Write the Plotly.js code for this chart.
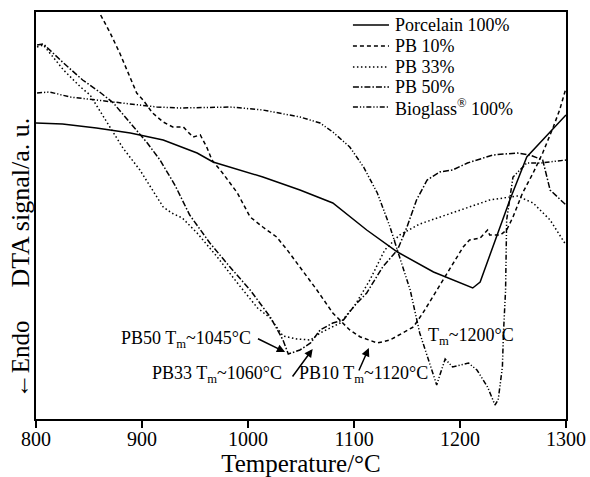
<!DOCTYPE html>
<html>
<head>
<meta charset="utf-8">
<script src="https://cdn.plot.ly/plotly-3.0.1.min.js"></script>
<style>html,body{margin:0;padding:0;background:#fff;}#chart{width:590px;height:477px;}</style>
</head>
<body>
<div id="chart"></div>
<script>
// Series names
const seriesNames = ['Porcelain 100%', 'PB 10%', 'PB 33%', 'PB 50%', 'Bioglass<sup>®</sup> 100%'];

// Porcelain 100%
const porcelainT = [800, 825, 857, 889, 920, 952, 967, 1014, 1049, 1080, 1112, 1141, 1175, 1212, 1219, 1231, 1247, 1263, 1285, 1300];
const porcelainY = [296, 295, 291, 286, 279, 266, 257, 242, 229, 216, 189, 167, 147, 131, 137, 172, 219, 262, 287, 304];

// PB 10%
const pb10T = [861, 870, 879, 889, 895, 901, 910, 920, 929, 939, 948, 955, 961, 966, 976, 990, 1002, 1014, 1027, 1037, 1049, 1065, 1080, 1096, 1106, 1122, 1134, 1146, 1156, 1165, 1178, 1191, 1203, 1209, 1219, 1226, 1228, 1238, 1244, 1250, 1259, 1269, 1278, 1288, 1294, 1300];
const pb10Y = [404, 386, 366, 342, 326, 319, 306, 297, 292, 292, 282, 284, 272, 259, 246, 226, 202, 192, 182, 169, 152, 129, 106, 89, 82, 76, 79, 86, 92, 106, 129, 152, 172, 179, 181, 189, 184, 184, 189, 202, 226, 246, 266, 292, 309, 331];

// PB 33%
const pb33T = [801, 807, 813, 826, 842, 851, 858, 870, 882, 898, 912, 920, 928, 938, 952, 971, 990, 1009, 1021, 1033, 1046, 1059, 1068, 1087, 1101, 1115, 1129, 1143, 1162, 1184, 1207, 1228, 1254, 1269, 1285, 1300];
const pb33Y = [372, 374, 366, 349, 332, 324, 312, 292, 271, 249, 226, 212, 206, 201, 186, 162, 136, 111, 101, 83, 80, 79, 86, 96, 114, 139, 169, 184, 195, 203, 212, 219, 223, 216, 199, 174];

// PB 50%
const pb50T = [801, 807, 826, 844, 860, 873, 889, 905, 917, 931, 945, 964, 983, 1002, 1021, 1033, 1038, 1049, 1059, 1068, 1080, 1090, 1101, 1112, 1127, 1141, 1150, 1159, 1169, 1181, 1193, 1207, 1231, 1254, 1266, 1278, 1282, 1285, 1292, 1300];
const pb50Y = [374, 375, 356, 339, 327, 316, 296, 276, 259, 234, 204, 176, 152, 129, 102, 79, 65, 69, 76, 89, 96, 99, 114, 126, 152, 169, 192, 219, 239, 247, 249, 256, 264, 266, 264, 259, 242, 229, 222, 214];

// Bioglass 100%
const bioT = [801, 813, 832, 858, 882, 914, 936, 983, 1014, 1049, 1068, 1080, 1096, 1109, 1122, 1134, 1143, 1153, 1162, 1172, 1178, 1181, 1186, 1193, 1200, 1208, 1216, 1226, 1233, 1236, 1240, 1241, 1243, 1244, 1250, 1263, 1276, 1300];
const bioY = [326, 327, 322, 319, 316, 312, 311, 312, 309, 302, 296, 287, 272, 252, 226, 192, 162, 129, 86, 52, 34, 44, 60, 52, 54, 56, 49, 32, 14, 19, 52, 86, 129, 199, 242, 256, 256, 259];

// Axis ticks
const xTicks = [800, 900, 1000, 1100, 1200, 1300];

// Annotation labels
const tmLabels = ['PB50 T<sub>m</sub>~1045°C', 'PB33 T<sub>m</sub>~1060°C', 'PB10 T<sub>m</sub>~1120°C', 'T<sub>m</sub>~1200°C'];

const dashes = ['solid', '4px,3px', '1.5px,2.5px', '6px,2px,1.5px,2px', '5px,2px,1.2px,2px,1.2px,2px'];
const xs = [porcelainT, pb10T, pb33T, pb50T, bioT];
const ys = [porcelainY, pb10Y, pb33Y, pb50Y, bioY];

const FONT = 'Liberation Serif, Times New Roman, serif';

const traces = xs.map((x, i) => ({
  x: x, y: ys[i], type: 'scatter', mode: 'lines', name: seriesNames[i],
  line: {color: '#000', width: 1.5, dash: dashes[i]},
  showlegend: false, hoverinfo: 'skip'
}));

// Manual legend (line samples + labels), placed in data space of the top-right corner
const legendRowsY = [394, 373, 352, 332, 312];
const legX0 = 1099, legX1 = 1133, legTextX = 1137;
const shapes = [];
const annotations = [];
legendRowsY.forEach((yy, i) => {
  shapes.push({type: 'line', xref: 'x', yref: 'y', x0: legX0, x1: legX1, y0: yy, y1: yy,
    line: {color: '#000', width: 1.5, dash: dashes[i]}});
  annotations.push({xref: 'x', yref: 'y', x: legTextX, y: yy, text: seriesNames[i], showarrow: false,
    xanchor: 'left', yanchor: 'middle', font: {size: 18, family: FONT, color: '#000'}});
});

// Tm labels
const labelPos = [
  {x: 878, y: 80},
  {x: 908, y: 45},
  {x: 1046, y: 45},
  {x: 1168, y: 83}
];
tmLabels.forEach((t, i) => {
  annotations.push({xref: 'x', yref: 'y', x: labelPos[i].x, y: labelPos[i].y, text: t, showarrow: false,
    xanchor: 'left', yanchor: 'middle', font: {size: 18, family: FONT, color: '#000'}});
});

// Arrows
const arrows = [
  {ax: 1008, ay: 81, x: 1035, y: 67},
  {ax: 1041, ay: 41, x: 1061, y: 70},
  {ax: 1104, ay: 47, x: 1114, y: 71}
];
arrows.forEach(a => {
  annotations.push({xref: 'x', yref: 'y', axref: 'x', ayref: 'y', x: a.x, y: a.y, ax: a.ax, ay: a.ay,
    text: '', showarrow: true, arrowhead: 2, arrowsize: 1.1, arrowwidth: 1.5, arrowcolor: '#000'});
});

// Y-axis labels (rotated)
annotations.push({xref: 'paper', yref: 'paper', x: -0.030, y: 0.532, text: 'DTA signal/a. u.', textangle: -90,
  showarrow: false, xanchor: 'center', yanchor: 'middle', font: {size: 26, family: FONT, color: '#000'}});
annotations.push({xref: 'paper', yref: 'paper', x: -0.030, y: 0.147, text: '←Endo', textangle: -90,
  showarrow: false, xanchor: 'center', yanchor: 'middle', font: {size: 25, family: FONT, color: '#000'}});

const layout = {
  width: 590, height: 477,
  margin: {l: 36, r: 24, t: 12, b: 58},
  paper_bgcolor: '#fff', plot_bgcolor: '#fff',
  font: {family: FONT, color: '#000'},
  showlegend: false,
  xaxis: {
    range: [800, 1300], tickvals: xTicks, ticktext: xTicks.map(String),
    ticks: 'outside', ticklen: 7, tickwidth: 1.5, tickcolor: '#000',
    ticklabelstandoff: -6,
    showline: true, linewidth: 2, linecolor: '#000', mirror: true,
    showgrid: false, zeroline: false,
    tickfont: {size: 20, family: FONT, color: '#000'},
    title: {text: 'Temperature/°C', font: {size: 25, family: FONT, color: '#000'}, standoff: 6}
  },
  yaxis: {
    range: [0, 407], showticklabels: false, ticks: '',
    showline: true, linewidth: 2, linecolor: '#000', mirror: true,
    showgrid: false, zeroline: false
  },
  shapes: shapes,
  annotations: annotations
};

Plotly.newPlot('chart', traces, layout, {staticPlot: true, displayModeBar: false});
</script>
</body>
</html>
